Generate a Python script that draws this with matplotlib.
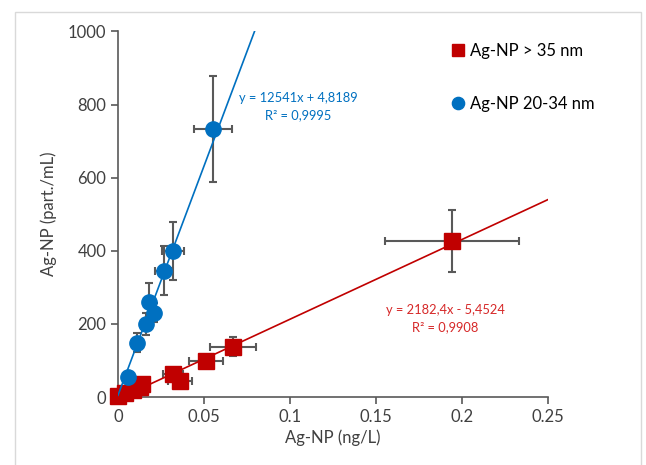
import numpy as np
import matplotlib.pyplot as plt
from matplotlib.patches import Rectangle

plt.rcParams['font.family'] = ['Lato', 'DejaVu Sans']

# Ag-NP > 35 nm (red squares)
x_big = [0.0, 0.004, 0.009, 0.013, 0.014, 0.032, 0.036, 0.051, 0.067, 0.194]
y_big = [2, 10, 20, 28, 36, 63, 45, 99, 138, 427]
xerr_big = [0.001, 0.001, 0.002, 0.002, 0.002, 0.006, 0.007, 0.010, 0.0135, 0.039]
yerr_big = [1, 2, 4, 5, 6, 10, 9, 17, 26, 85]

# Ag-NP 20-34 nm (blue circles)
x_small = [0.006, 0.011, 0.016, 0.018, 0.021, 0.0265, 0.032, 0.055]
y_small = [56, 149, 199, 259, 231, 346, 400, 733]
xerr_small = [0.001, 0.002, 0.002, 0.002, 0.003, 0.005, 0.0065, 0.011]
yerr_small = [10, 27, 30, 52, 27, 68, 80, 145]

# linie trendu (z równań na wykresie)
a_big, b_big = 2182.4, -5.4524
a_small, b_small = 12541, 4.8189

red = '#C00000'
blue = '#0070C0'
grey = '#595959'

fig = plt.figure(figsize=(6.46, 4.65), dpi=100)
fig.patches.append(Rectangle((15 / 646, -0.01), 626 / 646, 1 - 12 / 465 + 0.01,
                             transform=fig.transFigure, fill=False,
                             edgecolor='#d9d9d9', linewidth=1))
ax = fig.add_axes([118 / 646, 1 - 397 / 465, 430 / 646, 365.5 / 465])

xl = np.array([0, 0.25])
ax.plot(xl, a_big * xl + b_big, color=red, lw=1.2, zorder=2)
xs = np.array([0, 0.08])
ax.plot(xs, a_small * xs + b_small, color=blue, lw=1.2, zorder=4)

ax.errorbar(x_big, y_big, xerr=xerr_big, yerr=yerr_big, fmt='none',
            ecolor=grey, elinewidth=1.5, capsize=3, capthick=1.5, zorder=1)
ax.errorbar(x_small, y_small, xerr=xerr_small, yerr=yerr_small, fmt='none',
            ecolor=grey, elinewidth=1.5, capsize=3, capthick=1.5, zorder=1)

ax.plot(x_big, y_big, 's', color=red, ms=11, mec=red, label='Ag-NP > 35 nm',
        zorder=3, clip_on=False)
ax.plot(x_small, y_small, 'o', color=blue, ms=11, mec=blue, label='Ag-NP 20-34 nm',
        zorder=5, clip_on=False)

ax.text(0.1047, 795, 'y = 12541x + 4,8189\nR² = 0,9995', color=blue, fontsize=9.3,
        ha='center', va='center', linespacing=1.55)
ax.text(0.1905, 215, 'y = 2182,4x - 5,4524\nR² = 0,9908', color='#D62828', fontsize=9.3,
        ha='center', va='center', linespacing=1.55)

ax.set_xlim(0, 0.25)
ax.set_ylim(0, 1000)
ax.set_xticks([0, 0.05, 0.1, 0.15, 0.2, 0.25])
ax.set_xticklabels(['0', '0.05', '0.1', '0.15', '0.2', '0.25'])
ax.set_yticks([0, 200, 400, 600, 800, 1000])
for s in ['top', 'right']:
    ax.spines[s].set_visible(False)
for s in ['left', 'bottom']:
    ax.spines[s].set_color(grey)
    ax.spines[s].set_linewidth(1.2)
ax.tick_params(colors=grey, labelcolor='#404040', labelsize=12, length=5, width=1.2)
ax.set_xlabel('Ag-NP (ng/L)', fontsize=12, color='#404040', labelpad=3)
ax.set_ylabel('Ag-NP (part./mL)', fontsize=12, color='#404040', labelpad=8)

leg = ax.legend(loc='upper left', bbox_to_anchor=(0.74, 1.01), frameon=False,
                fontsize=12, handlelength=0.8, handletextpad=0.3, labelspacing=2.2,
                markerscale=0.8)

fig.savefig('out.png', dpi=100)
